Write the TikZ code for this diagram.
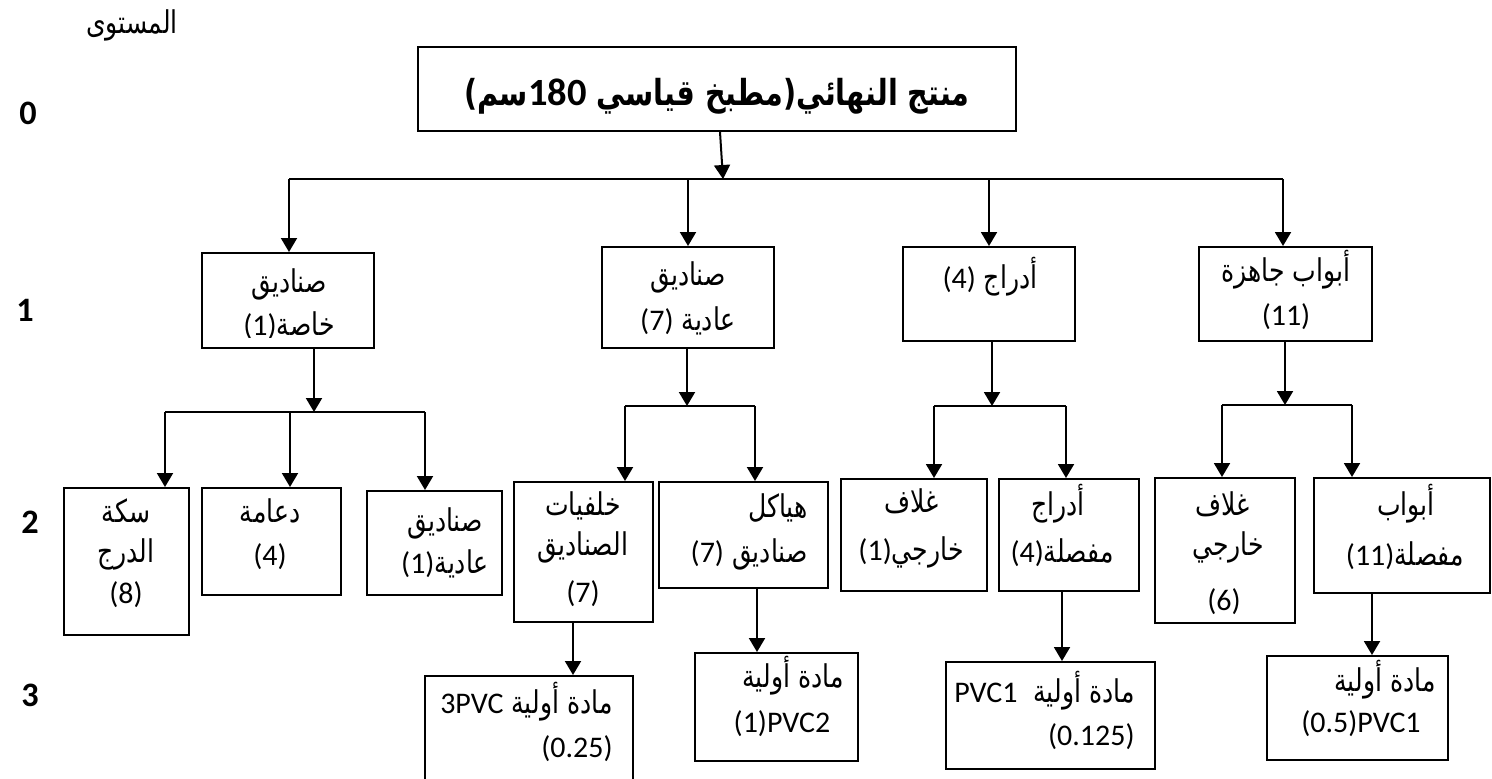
\documentclass[tikz,border=0pt]{standalone}
\usepackage{fontspec}
\usetikzlibrary{arrows.meta}
\TeXXeTstate=1
\newfontfamily\arabicfont[Script=Arabic, Scale=1.12, FakeStretch=0.8]{DejaVu Sans}
\newfontfamily\latfont[Scale=1.07]{Carlito}
% one right-to-left line, and a left-to-right run inside it
\newcommand\AR[1]{{\arabicfont\beginR #1\endR}}
\newcommand\LT[1]{\beginL{\latfont #1}\endL}
% box from its corners (x1,x2,y1,y2)
\newcommand\mkbox[5]{\node[box, minimum width={(#3-#2)*0.5pt}, minimum height={(#5-#4)*0.5pt}] (#1) at ({(#2+#3)/2},{(#4+#5)/2}) {};}
% one text line placed by its baseline
\newcommand\tl[5][base]{\node[txt, anchor=#1] (#2) at (#3,#4) {#5};}
\tikzset{
  box/.style={draw, line width=1pt, inner sep=0pt},
  txt/.style={inner sep=0pt, font=\fontsize{14}{17}\selectfont},
  lvl/.style={inner sep=0pt, anchor=base, font=\latfont\bfseries\fontsize{16}{20}\selectfont},
  arr/.style={line width=1pt, -{Triangle[width=8pt,length=7pt]}},
  bus/.style={line width=1pt},
}
\begin{document}
\begin{tikzpicture}[x=0.5pt, y=-0.5pt]
\path[use as bounding box, fill=white] (0,0) rectangle (1492,778);
\clip (0,0) rectangle (1492,778);

% level labels
\tl{lvname}{132}{33}{\AR{المستوى}}
\node[lvl] (lv0) at (28,124) {0};
\node[lvl] (lv1) at (25,321) {1};
\node[lvl] (lv2) at (30,533) {2};
\node[lvl] (lv3) at (30,706) {3};

% level 0
\mkbox{T}{418}{1016}{47}{131}
\node[txt, anchor=base, font=\bfseries\fontsize{16}{20}\selectfont] (Tt) at (717,105)
  {\AR{منتج النهائي(مطبخ قياسي \LT{\bfseries\fontsize{18}{20}\selectfont 180}سم)}};

% level 1
\mkbox{A1}{202}{374}{253}{348}
\mkbox{A2}{602}{774}{247}{348}
\mkbox{A3}{903}{1075}{247}{341}
\mkbox{A4}{1199}{1372}{247}{341}
\tl{A1a}{289}{292}{\AR{صناديق}}
\begin{scope}
  \clip (202,253) rectangle (374,337);
  \tl{A1b}{289}{335}{\AR{خاصة\LT{(1)}}}
\end{scope}
\tl{A2a}{688}{285}{\AR{صناديق}}
\tl{A2b}{688}{330}{\AR{عادية \LT{(7)}}}
\tl{A3a}{990}{288}{\AR{أدراج \LT{(4)}}}
\tl{A4a}{1286}{281}{\AR{أبواب جاهزة}}
\tl{A4b}{1286}{325}{\latfont (11)}

% level 2
\mkbox{B1}{64}{189}{488}{635}
\mkbox{B2}{202}{341}{488}{595}
\mkbox{B3}{367}{502}{491}{595}
\mkbox{B4}{514}{653}{482}{622}
\mkbox{B5}{659}{828}{482}{588}
\mkbox{B6}{841}{987}{479}{591}
\mkbox{B7}{999}{1139}{479}{591}
\mkbox{B8}{1155}{1295}{478}{623}
\mkbox{B9}{1314}{1490}{478}{593}
\tl{B1a}{126}{522}{\AR{سكة}}
\tl{B1b}{126}{562}{\AR{الدرج}}
\tl{B1c}{126}{603}{\latfont (8)}
\tl{B2a}{270}{522}{\AR{دعامة}}
\tl{B2b}{270}{565}{\latfont (4)}
\tl{B3a}{445}{531}{\AR{صناديق}}
\tl{B3b}{445}{573}{\AR{عادية\LT{(1)}}}
\tl{B4a}{583}{515}{\AR{خلفيات}}
\tl{B4b}{583}{555}{\AR{الصناديق}}
\tl{B4c}{583}{602}{\latfont (7)}
\tl[base east]{B5a}{808}{517}{\AR{هياكل}}
\tl[base east]{B5b}{808}{562}{\AR{صناديق \LT{(7)}}}
\tl{B6a}{912}{512}{\AR{غلاف}}
\tl{B6b}{911}{560}{\AR{خارجي\LT{(1)}}}
\tl{B7a}{1058}{515}{\AR{أدراج}}
\tl{B7b}{1062}{562}{\AR{مفصلة\LT{(4)}}}
\tl{B8a}{1223}{515}{\AR{غلاف}}
\tl{B8b}{1228}{555}{\AR{خارجي}}
\tl{B8c}{1224}{610}{\latfont (6)}
\tl{B9a}{1406}{515}{\AR{أبواب}}
\tl{B9b}{1405}{565}{\AR{مفصلة\LT{(11)}}}

% level 3
\mkbox{C1}{425}{633}{676}{800}
\mkbox{C2}{695}{858}{653}{761}
\mkbox{C3}{946}{1155}{662}{769}
\mkbox{C4}{1267}{1448}{656}{760}
\tl[base east]{C1a}{613}{713}{\AR{مادة أولية \LT{3PVC}}}
\tl[base east]{C1b}{613}{757}{\latfont (0.25)}
\tl{C2a}{793}{687}{\AR{مادة أولية}}
\tl{C2b}{782}{732}{\latfont (1)PVC2}
\tl[base east]{C3a}{1135}{702}{\AR{مادة أولية\ \ \LT{PVC1}}}
\tl[base east]{C3b}{1135}{745}{\latfont (0.125)}
\tl{C4a}{1385}{691}{\AR{مادة أولية}}
\tl{C4b}{1361}{732}{\latfont (0.5)PVC1}

% level 0 -> level 1
\coordinate (Tout) at (720,131);
\coordinate (J0) at (723,179);
\coordinate (L0a) at (289,179);
\coordinate (L0b) at (688,179);
\coordinate (L0c) at (989,179);
\coordinate (L0d) at (1283,179);
\draw[arr] (T.south -| Tout) -- (J0);
\draw[bus] (L0a) -- (L0d);
\draw[arr] (L0a) -- (L0a |- A1.north);
\draw[arr] (L0b) -- (L0b |- A2.north);
\draw[arr] (L0c) -- (L0c |- A3.north);
\draw[arr] (L0d) -- (L0d |- A4.north);

% level 1 -> level 2
\coordinate (S1) at (314,412);
\coordinate (S1a) at (165,412);
\coordinate (S1b) at (290,412);
\coordinate (S1c) at (425,412);
\draw[arr] (A1.south -| S1) -- (S1);
\draw[bus] (S1a) -- (S1c);
\draw[arr] (S1a) -- (S1a |- B1.north);
\draw[arr] (S1b) -- (S1b |- B2.north);
\draw[arr] (S1c) -- (S1c |- B3.north);

\coordinate (S2) at (687,406);
\coordinate (S2a) at (625,406);
\coordinate (S2b) at (755,406);
\draw[arr] (A2.south -| S2) -- (S2);
\draw[bus] (S2a) -- (S2b);
\draw[arr] (S2a) -- (S2a |- B4.north);
\draw[arr] (S2b) -- (S2b |- B5.north);

\coordinate (S3) at (992,406);
\coordinate (S3a) at (934,406);
\coordinate (S3b) at (1066,406);
\draw[arr] (A3.south -| S3) -- (S3);
\draw[bus] (S3a) -- (S3b);
\draw[arr] (S3a) -- (S3a |- B6.north);
\draw[arr] (S3b) -- (S3b |- B7.north);

\coordinate (S4) at (1285,405);
\coordinate (S4a) at (1222,405);
\coordinate (S4b) at (1352,405);
\draw[arr] (A4.south -| S4) -- (S4);
\draw[bus] (S4a) -- (S4b);
\draw[arr] (S4a) -- (S4a |- B8.north);
\draw[arr] (S4b) -- (S4b |- B9.north);

% level 2 -> level 3
\coordinate (D1) at (573,0);
\coordinate (D2) at (757,0);
\coordinate (D3) at (1062,0);
\coordinate (D4) at (1372,0);
\draw[arr] (B4.south -| D1) -- (C1.north -| D1);
\draw[arr] (B5.south -| D2) -- (C2.north -| D2);
\draw[arr] (B7.south -| D3) -- (C3.north -| D3);
\draw[arr] (B9.south -| D4) -- (C4.north -| D4);
\end{tikzpicture}
\end{document}
